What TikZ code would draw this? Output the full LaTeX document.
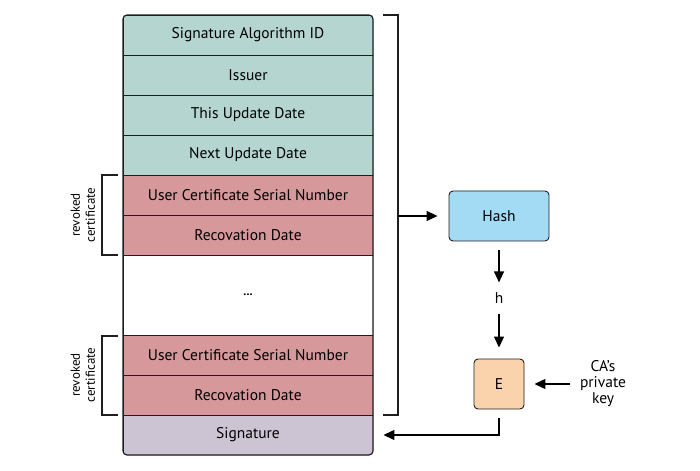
\documentclass[tikz,border=0pt]{standalone}
\usepackage{fontspec}
\setmainfont{PT Sans}
\usetikzlibrary{arrows.meta}
\definecolor{tealc}{RGB}{181,214,208}
\definecolor{redc}{RGB}{214,152,155}
\definecolor{sigc}{RGB}{204,196,210}
\definecolor{hashc}{RGB}{163,219,245}
\definecolor{ec}{RGB}{250,211,172}
\definecolor{linec}{RGB}{30,30,30}
\begin{document}
\begin{tikzpicture}[x=1bp,y=-1bp,
  txt/.style={font=\fontsize{15.5bp}{17bp}\selectfont},
  rowbox/.style={txt,minimum width=250bp,minimum height=40bp,inner sep=0pt,draw=linec,line width=0.9bp},
  arr/.style={line width=1.3bp,-{Triangle[length=11bp,width=10bp]}},
  brk/.style={line width=1.3bp,linec},
  lbl/.style={font=\fontsize{13bp}{15bp}\selectfont,rotate=90,align=center,inner sep=0pt}]
\useasboundingbox (0,0) rectangle (700,471);
\begin{scope}
\clip[rounded corners=4bp] (123,15) rectangle (373,455);
\node[rowbox,fill=tealc] (r1) at (248,35) {Signature Algorithm ID};
\node[rowbox,fill=tealc] (r2) at (248,75) {Issuer};
\node[rowbox,fill=tealc] (r3) at (248,115) {This Update Date};
\node[rowbox,fill=tealc] (r4) at (248,155) {Next Update Date};
\node[rowbox,fill=redc] (r5) at (248,195) {User Certificate Serial Number};
\node[rowbox,fill=redc] (r6) at (248,235) {Recovation Date};
\node[rowbox,fill=white,minimum height=80bp,font=\fontsize{12bp}{14bp}\bfseries] (dots) at (248,295) {...};
\node[rowbox,fill=redc] (r7) at (248,355) {User Certificate Serial Number};
\node[rowbox,fill=redc] (r8) at (248,395) {Recovation Date};
\node[rowbox,fill=sigc] (sig) at (248,435) {Signature};
\end{scope}
\draw[linec,line width=1.2bp,rounded corners=4bp] (123,15) rectangle (373,455);
% right bracket
\coordinate (bt) at (398,15);
\coordinate (bb) at (398,415);
\coordinate (bm) at (398,216);
\draw[brk] (383,15) -- (bt) -- (bb) -- (383,415);
% left brackets
\draw[brk] (118,175) -- (102,175) -- (102,255) -- (118,255);
\draw[brk] (118,336) -- (102,336) -- (102,415) -- (118,415);
\node[lbl] (l1) at (83,215) {revoked\\certificate};
\node[lbl] (l2) at (83,375) {revoked\\certificate};
% hash and E
\node[txt,draw=linec,line width=0.9bp,fill=hashc,rounded corners=4bp,minimum width=100bp,minimum height=50bp] (hash) at (499,216) {Hash};
\node[txt,inner sep=0pt] (h) at (499,298) {h};
\node[txt,draw=linec,line width=0.9bp,fill=ec,rounded corners=4bp,minimum width=50bp,minimum height=50bp] (E) at (499,384) {E};
\node[txt,align=center,inner sep=0pt,font=\fontsize{15.5bp}{16bp}\selectfont] (key) at (603,384) {CA's\\private\\key};
\draw[arr,shorten >=11bp] (bm) -- (bm -| hash.west);
\draw[arr,shorten <=9bp,shorten >=10bp] (hash.south) -- (h.north);
\draw[arr,shorten <=10bp,shorten >=11bp] (h.south) -- (E.north);
\draw[arr,shorten <=10bp,shorten >=10bp] (key.west) -- (E.east);
\draw[arr,shorten <=9bp,shorten >=10bp] (E.south) |- (sig.east);
\end{tikzpicture}
\end{document}
